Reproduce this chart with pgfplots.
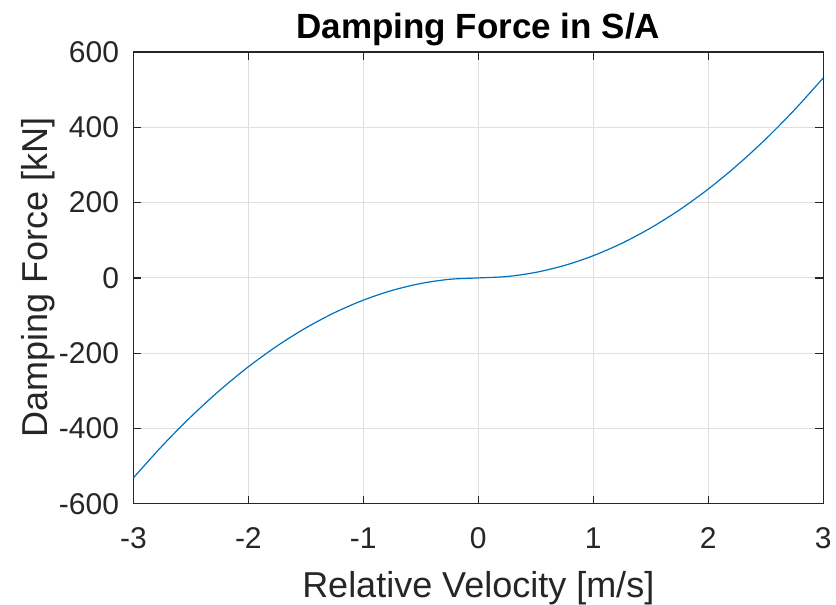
\documentclass[border=0pt]{standalone}
\usepackage{pgfplots}
\pgfplotsset{compat=1.18}
\usepackage{fontspec}
\setmainfont{Liberation Sans}
\definecolor{mblue}{RGB}{0,114,189}
\definecolor{gridc}{RGB}{223,223,223}
\definecolor{axc}{RGB}{38,38,38}
\begin{document}
\begin{tikzpicture}
\path[use as bounding box] (-66.7pt,-50.4pt) rectangle (351.4pt,252pt);
\begin{axis}[
  at={(0pt,0pt)}, anchor=south west,
  scale only axis, width=345pt, height=226pt,
  xmin=-3, xmax=3, ymin=-600, ymax=600,
  xtick={-3,-2,-1,0,1,2,3}, ytick={-600,-400,-200,0,200,400,600},
  grid=major, major grid style={gridc, line width=0.5pt},
  axis line style={axc, line width=0.6pt},
  tick style={axc, line width=0.6pt}, tick align=inside, major tick length=4pt,
  xtick pos=both, ytick pos=both,
  /pgf/number format/assume math mode=true,
  ticklabel style={font=\fontsize{15}{17}\selectfont, text=axc, inner sep=0pt},
  yticklabel style={anchor=east, xshift=-7pt},
  xticklabel style={anchor=north, yshift=-11.8pt},
  label style={font=\fontsize{18}{20}\selectfont, text=axc},
  xlabel style={at={(axis description cs:0.5,-0.208)}, anchor=base},
  ylabel style={at={(axis description cs:-0.1246,0.5)}, anchor=base},
  every axis title shift=0pt,
  title style={font=\fontsize{17.5}{19}\selectfont\bfseries, at={(axis description cs:0.5,1.0288)}, anchor=base},
  xlabel={Relative Velocity [m/s]},
  ylabel={Damping Force [kN]},
  title={Damping Force in S/A},
]
\addplot[mblue, line width=0.6pt, smooth] coordinates {
(-3,-531) (-2.75,-446.19) (-2.5,-368.75) (-2.25,-298.69) (-2,-236) (-1.75,-180.69)
(-1.5,-132.75) (-1.25,-92.19) (-1,-59) (-0.75,-33.19) (-0.5,-14.75) (-0.25,-3.69)
(0,0) (0.25,3.69) (0.5,14.75) (0.75,33.19) (1,59) (1.25,92.19) (1.5,132.75)
(1.75,180.69) (2,236) (2.25,298.69) (2.5,368.75) (2.75,446.19) (3,531)
};
\end{axis}
\end{tikzpicture}
\end{document}
